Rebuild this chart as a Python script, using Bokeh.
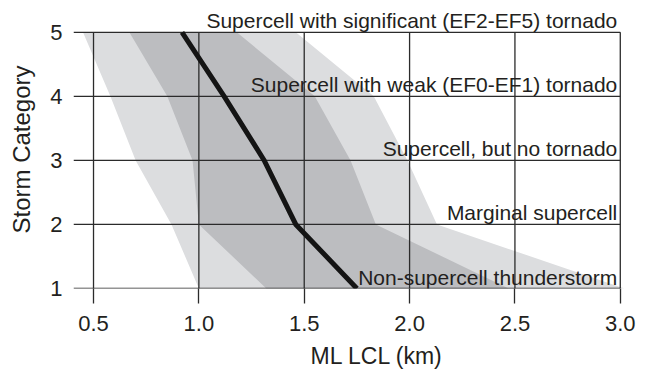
from bokeh.plotting import figure
from bokeh.models import (ColumnDataSource, LabelSet, FixedTicker,
                          PrintfTickFormatter, Range1d, Title)
from bokeh.core.properties import value
from bokeh.embed import file_html
from bokeh.resources import INLINE

# ---- data ----
categories = [1, 2, 3, 4, 5]
category_names = [
    "Non-supercell thunderstorm",
    "Marginal supercell",
    "Supercell, but no tornado",
    "Supercell with weak (EF0-EF1) tornado",
    "Supercell with significant (EF2-EF5) tornado",
]
outer_left = [1.00, 0.87, 0.70, 0.58, 0.45]
outer_right = [3.02, 2.13, 1.99, 1.83, 1.46]
inner_left = [1.32, 1.00, 0.97, 0.85, 0.67]
inner_right = [2.47, 1.84, 1.72, 1.55, 1.18]
median = [1.75, 1.46, 1.31, 1.12, 0.92]
x_ticks = [0.5, 1.0, 1.5, 2.0, 2.5, 3.0]
y_ticks = [1, 2, 3, 4, 5]

TEXT = "#231f20"
GRID = "#2b2b2b"
FONT = "Liberation Sans"

x_start, x_end = 0.405, 3.02
y_start, y_end = 1.0, 5.34
p = figure(width=652, height=381, output_backend="svg", toolbar_location=None,
           x_range=Range1d(x_start, x_end), y_range=Range1d(y_start, y_end),
           min_border_left=73, min_border_right=28, min_border_top=10,
           min_border_bottom=93)
p.outline_line_color = None
p.background_fill_color = "white"
p.border_fill_color = "white"
p.xgrid.visible = False
p.ygrid.visible = False

# shaded bands
p.harea(y=categories, x1=outer_left, x2=outer_right, fill_color="#dcdddf",
        fill_alpha=1.0)
p.harea(y=categories, x1=inner_left, x2=inner_right, fill_color="#bcbdc0",
        fill_alpha=1.0)

# grid lines (limited to the category span, drawn over the bands)
nx, ny = len(x_ticks), len(y_ticks)
p.segment(x0=x_ticks, y0=[y_ticks[0]] * nx, x1=x_ticks, y1=[y_ticks[-1]] * nx,
          line_color=GRID, line_width=1.3)
p.segment(x0=[x_start] * ny, y0=y_ticks, x1=[x_ticks[-1]] * ny, y1=y_ticks,
          line_color=GRID, line_width=1.3)

# median line
p.line(x=median, y=categories, line_color="#141414", line_width=5,
       line_cap="butt", line_join="miter")

# category labels
src = ColumnDataSource(dict(x=[x_ticks[-1]] * len(categories), y=categories,
                            name=category_names))
labels = LabelSet(x="x", y="y", text="name", source=src, x_offset=-3,
                  y_offset=4, text_align="right", text_baseline="alphabetic",
                  text_font=value(FONT), text_font_size=value("21px"),
                  text_color=value(TEXT))
p.add_layout(labels)

# axes
xa = p.xaxis[0]
xa.ticker = FixedTicker(ticks=x_ticks)
xa.formatter = PrintfTickFormatter(format="%.1f")
xa.axis_line_color = None
xa.major_tick_in = 0
xa.major_tick_out = 15
xa.major_tick_line_color = GRID
xa.major_tick_line_width = 1.3
xa.minor_tick_line_color = None
xa.major_label_standoff = 12
xa.major_label_text_font = FONT
xa.major_label_text_font_size = "22px"
xa.major_label_text_color = TEXT

ya = p.yaxis[0]
ya.ticker = FixedTicker(ticks=y_ticks)
ya.formatter = PrintfTickFormatter(format="%d")
ya.axis_line_color = None
ya.major_tick_in = 0
ya.major_tick_out = 0
ya.minor_tick_line_color = None
ya.major_label_standoff = 11
ya.major_label_text_font = FONT
ya.major_label_text_font_size = "22px"
ya.major_label_text_color = TEXT
ya.axis_label = "Storm Category"
ya.axis_label_text_font = FONT
ya.axis_label_text_font_size = "24px"
ya.axis_label_text_font_style = "normal"
ya.axis_label_text_color = TEXT
ya.axis_label_standoff = 12

xt = Title(text="ML LCL (km)", align="left", offset=237, text_font=FONT,
           text_font_size="23px", text_font_style="normal", text_color=TEXT,
           standoff=15)
p.add_layout(xt, "below")

open("out.html", "w").write(file_html(p, INLINE))
